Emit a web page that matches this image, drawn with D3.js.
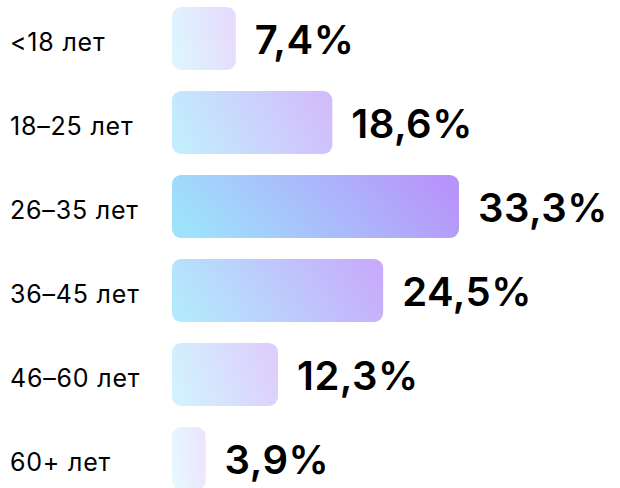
<!DOCTYPE html>
<html>
<head>
<meta charset="utf-8">
<script src="https://cdn.jsdelivr.net/npm/d3@7"></script>
<style>
  html, body { margin: 0; padding: 0; background: #fff; }
</style>
</head>
<body>
<svg id="chart"></svg>
<script>
const categories = ["<18 лет", "18–25 лет", "26–35 лет", "36–45 лет", "46–60 лет", "60+ лет"];
const values = [7.4, 18.6, 33.3, 24.5, 12.3, 3.9];
const valueLabels = ["7,4%", "18,6%", "33,3%", "24,5%", "12,3%", "3,9%"];

const data = categories.map((c, i) => ({ cat: c, val: values[i], label: valueLabels[i] }));

const W = 620, H = 488;
const x0 = 172;

const svg = d3.select("#chart")
    .attr("width", W)
    .attr("height", H);

const xScale = d3.scaleLinear().domain([0, d3.max(values)]).range([0, 287]);
const yScale = d3.scaleBand().domain(categories).range([7, 490]).paddingInner(0.25).paddingOuter(0);
const opacity = d3.scaleLinear().domain([d3.min(values), d3.max(values)]).range([0.25, 1]);

const defs = svg.append("defs");
const grad = defs.append("linearGradient")
    .attr("id", "barGrad")
    .attr("x1", 0).attr("y1", 0.6)
    .attr("x2", 1).attr("y2", 0.4);
grad.append("stop").attr("offset", "0%").attr("stop-color", "#9de3fc");
grad.append("stop").attr("offset", "100%").attr("stop-color", "#b794fa");

svg.selectAll(".bar")
    .data(data)
    .enter().append("rect")
    .attr("class", "bar")
    .attr("x", x0)
    .attr("y", d => yScale(d.cat))
    .attr("width", d => xScale(d.val))
    .attr("height", yScale.bandwidth())
    .attr("rx", 9)
    .attr("fill", "url(#barGrad)")
    .attr("fill-opacity", d => opacity(d.val));

svg.selectAll(".cat")
    .data(data)
    .enter().append("text")
    .attr("class", "cat")
    .attr("x", 10)
    .attr("y", d => yScale(d.cat) + yScale.bandwidth() / 2 + 3)
    .attr("dominant-baseline", "central")
    .style("font-family", "Inter, sans-serif")
    .style("font-size", "25px")
    .style("letter-spacing", "0.8px")
    .style("fill", "#000")
    .text(d => d.cat);

svg.selectAll(".val")
    .data(data)
    .enter().append("text")
    .attr("class", "val")
    .attr("x", d => x0 + xScale(d.val) + 19)
    .attr("y", d => yScale(d.cat) + yScale.bandwidth() / 2 + 1)
    .attr("dominant-baseline", "central")
    .style("font-family", "Inter, sans-serif")
    .style("font-size", "40px")
    .style("font-weight", "600")
    .style("letter-spacing", "0.5px")
    .style("fill", "#000")
    .text(d => d.label);
</script>
</body>
</html>
